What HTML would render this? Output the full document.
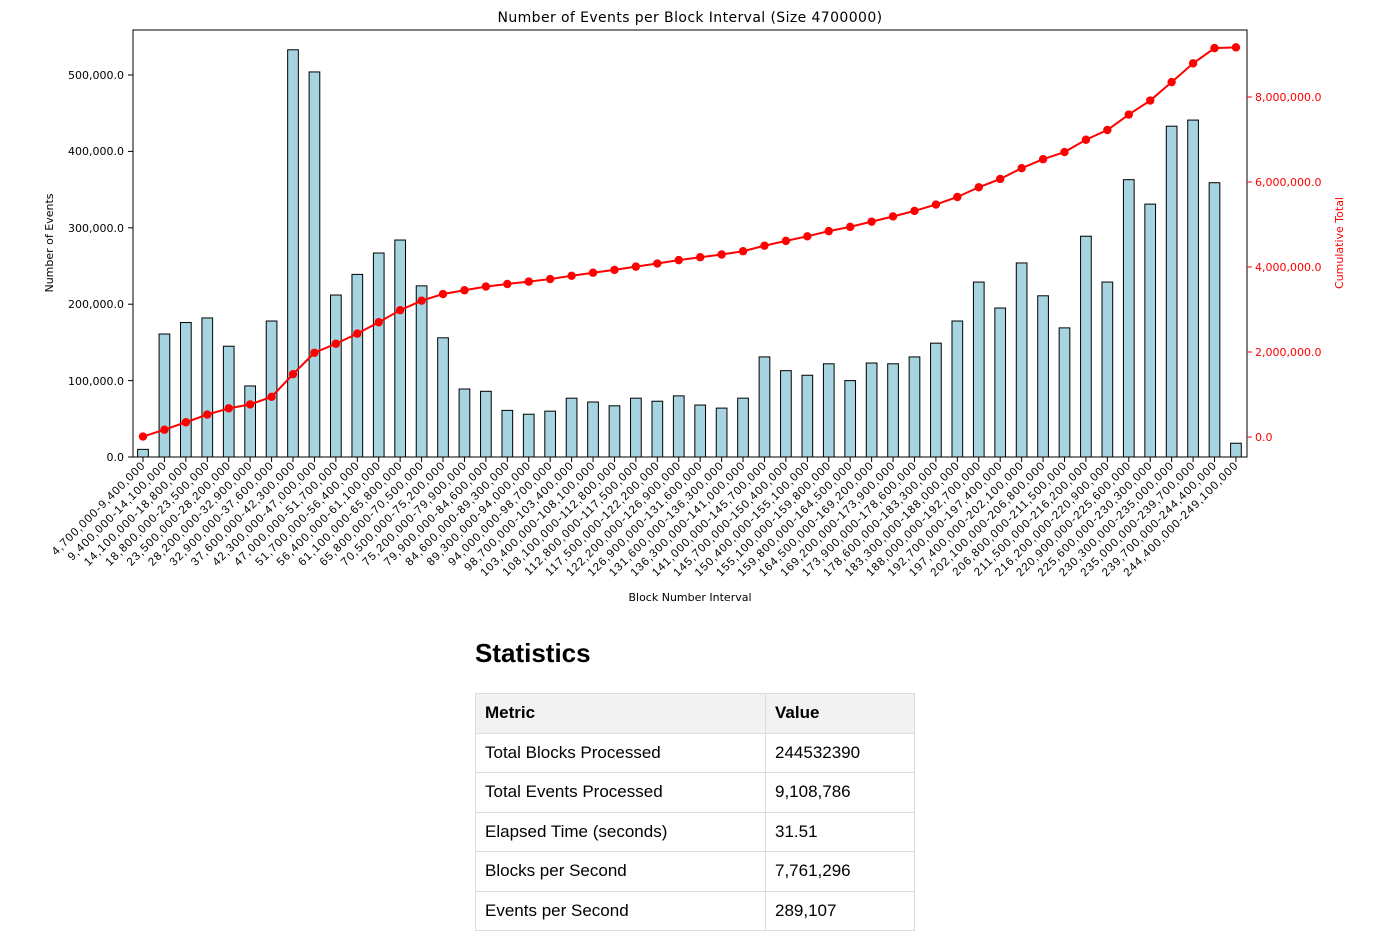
<!DOCTYPE html>
<html><head><meta charset="utf-8"><style>
body{margin:0;background:#fff;width:1373px;height:939px;overflow:hidden;font-family:"Liberation Sans",Arial,sans-serif}
svg{position:absolute;left:0;top:0}
text{font-family:"DejaVu Sans","Liberation Sans",sans-serif}
#lbl text{font-family:"Liberation Sans",sans-serif;letter-spacing:1.1px}
h2{position:absolute;left:475px;top:638px;margin:0;font-size:26px;font-weight:bold;font-family:"Liberation Sans",Arial,sans-serif}
table{position:absolute;left:475px;top:693px;border-collapse:collapse;font-size:17px}
td,th{border:1px solid #ddd;height:39.5px;padding:0 9px;text-align:left;box-sizing:border-box}
th{background:#f2f2f2;font-weight:bold}
</style></head><body>
<svg width="1373" height="620" id="s">
<text x="690" y="22" font-size="14" text-anchor="middle" letter-spacing="0.4">Number of Events per Block Interval (Size 4700000)</text>
<g id="bars"></g>
<rect x="133" y="30" width="1114" height="427" fill="none" stroke="#000" stroke-width="1"/>
<g font-size="11" text-anchor="end">
<text x="124" y="461">0.0</text><text x="124" y="385">100,000.0</text><text x="124" y="308">200,000.0</text><text x="124" y="232">300,000.0</text><text x="124" y="155">400,000.0</text><text x="124" y="79">500,000.0</text>
</g>
<g stroke="#000"><line x1="128" x2="133" y1="457" y2="457"/><line x1="128" x2="133" y1="380.6" y2="380.6"/><line x1="128" x2="133" y1="304.2" y2="304.2"/><line x1="128" x2="133" y1="227.8" y2="227.8"/><line x1="128" x2="133" y1="151.4" y2="151.4"/><line x1="128" x2="133" y1="75" y2="75"/></g>
<g stroke="red"><line x1="1247" x2="1252" y1="437" y2="437"/><line x1="1247" x2="1252" y1="352" y2="352"/><line x1="1247" x2="1252" y1="267" y2="267"/><line x1="1247" x2="1252" y1="182" y2="182"/><line x1="1247" x2="1252" y1="97" y2="97"/></g>
<g font-size="11" fill="red">
<text x="1255" y="441">0.0</text><text x="1255" y="356">2,000,000.0</text><text x="1255" y="271">4,000,000.0</text><text x="1255" y="186">6,000,000.0</text><text x="1255" y="101">8,000,000.0</text>
</g>
<text transform="translate(53,243) rotate(-90)" font-size="11" text-anchor="middle">Number of Events</text>
<text transform="translate(1343,243) rotate(-90)" font-size="11" text-anchor="middle" fill="red">Cumulative Total</text>
<text x="690" y="601" font-size="11" text-anchor="middle">Block Number Interval</text>
<g font-size="11.5" text-anchor="end" id="lbl">
<text transform="translate(146,466) rotate(-45)">4,700,000-9,400,000</text>
<text transform="translate(167.4,466) rotate(-45)">9,400,000-14,100,000</text>
<text transform="translate(188.9,466) rotate(-45)">14,100,000-18,800,000</text>
<text transform="translate(210.3,466) rotate(-45)">18,800,000-23,500,000</text>
<text transform="translate(231.7,466) rotate(-45)">23,500,000-28,200,000</text>
<text transform="translate(253.1,466) rotate(-45)">28,200,000-32,900,000</text>
<text transform="translate(274.6,466) rotate(-45)">32,900,000-37,600,000</text>
<text transform="translate(296,466) rotate(-45)">37,600,000-42,300,000</text>
<text transform="translate(317.4,466) rotate(-45)">42,300,000-47,000,000</text>
<text transform="translate(338.9,466) rotate(-45)">47,000,000-51,700,000</text>
<text transform="translate(360.3,466) rotate(-45)">51,700,000-56,400,000</text>
<text transform="translate(381.7,466) rotate(-45)">56,400,000-61,100,000</text>
<text transform="translate(403.2,466) rotate(-45)">61,100,000-65,800,000</text>
<text transform="translate(424.6,466) rotate(-45)">65,800,000-70,500,000</text>
<text transform="translate(446,466) rotate(-45)">70,500,000-75,200,000</text>
<text transform="translate(467.5,466) rotate(-45)">75,200,000-79,900,000</text>
<text transform="translate(488.9,466) rotate(-45)">79,900,000-84,600,000</text>
<text transform="translate(510.3,466) rotate(-45)">84,600,000-89,300,000</text>
<text transform="translate(531.7,466) rotate(-45)">89,300,000-94,000,000</text>
<text transform="translate(553.2,466) rotate(-45)">94,000,000-98,700,000</text>
<text transform="translate(574.6,466) rotate(-45)">98,700,000-103,400,000</text>
<text transform="translate(596,466) rotate(-45)">103,400,000-108,100,000</text>
<text transform="translate(617.5,466) rotate(-45)">108,100,000-112,800,000</text>
<text transform="translate(638.9,466) rotate(-45)">112,800,000-117,500,000</text>
<text transform="translate(660.3,466) rotate(-45)">117,500,000-122,200,000</text>
<text transform="translate(681.8,466) rotate(-45)">122,200,000-126,900,000</text>
<text transform="translate(703.2,466) rotate(-45)">126,900,000-131,600,000</text>
<text transform="translate(724.6,466) rotate(-45)">131,600,000-136,300,000</text>
<text transform="translate(746,466) rotate(-45)">136,300,000-141,000,000</text>
<text transform="translate(767.5,466) rotate(-45)">141,000,000-145,700,000</text>
<text transform="translate(788.9,466) rotate(-45)">145,700,000-150,400,000</text>
<text transform="translate(810.3,466) rotate(-45)">150,400,000-155,100,000</text>
<text transform="translate(831.8,466) rotate(-45)">155,100,000-159,800,000</text>
<text transform="translate(853.2,466) rotate(-45)">159,800,000-164,500,000</text>
<text transform="translate(874.6,466) rotate(-45)">164,500,000-169,200,000</text>
<text transform="translate(896.1,466) rotate(-45)">169,200,000-173,900,000</text>
<text transform="translate(917.5,466) rotate(-45)">173,900,000-178,600,000</text>
<text transform="translate(938.9,466) rotate(-45)">178,600,000-183,300,000</text>
<text transform="translate(960.4,466) rotate(-45)">183,300,000-188,000,000</text>
<text transform="translate(981.8,466) rotate(-45)">188,000,000-192,700,000</text>
<text transform="translate(1003.2,466) rotate(-45)">192,700,000-197,400,000</text>
<text transform="translate(1024.6,466) rotate(-45)">197,400,000-202,100,000</text>
<text transform="translate(1046.1,466) rotate(-45)">202,100,000-206,800,000</text>
<text transform="translate(1067.5,466) rotate(-45)">206,800,000-211,500,000</text>
<text transform="translate(1088.9,466) rotate(-45)">211,500,000-216,200,000</text>
<text transform="translate(1110.4,466) rotate(-45)">216,200,000-220,900,000</text>
<text transform="translate(1131.8,466) rotate(-45)">220,900,000-225,600,000</text>
<text transform="translate(1153.2,466) rotate(-45)">225,600,000-230,300,000</text>
<text transform="translate(1174.7,466) rotate(-45)">230,300,000-235,000,000</text>
<text transform="translate(1196.1,466) rotate(-45)">235,000,000-239,700,000</text>
<text transform="translate(1217.5,466) rotate(-45)">239,700,000-244,400,000</text>
<text transform="translate(1239,466) rotate(-45)">244,400,000-249,100,000</text>
</g>
</svg>
<h2>Statistics</h2>
<table>
<tr><th style="width:290px">Metric</th><th style="width:149px">Value</th></tr>
<tr><td>Total Blocks Processed</td><td>244532390</td></tr>
<tr><td>Total Events Processed</td><td>9,108,786</td></tr>
<tr><td>Elapsed Time (seconds)</td><td>31.51</td></tr>
<tr><td>Blocks per Second</td><td>7,761,296</td></tr>
<tr><td>Events per Second</td><td>289,107</td></tr>
</table>
<script>
var v=[10,161,176,182,145,93,178,533,504,212,239,267,284,224,156,89,86,61,56,60,77,72,67,77,73,80,68,64,77,131,113,107,122,100,123,122,131,149,178,229,195,254,211,169,289,229,363,331,433,441,359,18];
var g=document.getElementById('bars'),h='',c=0,pts=[],dots='';
for(var i=0;i<v.length;i++){var x=143+21.43*i,hh=v[i]*0.764;
h+='<rect x="'+(x-5.35)+'" y="'+(457-hh)+'" width="10.7" height="'+hh+'" fill="#a6d4e0" stroke="#000" stroke-width="1"/>';
h+='<line x1="'+x+'" x2="'+x+'" y1="457" y2="462" stroke="#000"/>';
c+=v[i];var y=437-c/1000*42.5;pts.push(x+','+y);dots+='<circle cx="'+x+'" cy="'+y+'" r="4.2" fill="red"/>';}
h+='<polyline points="'+pts.join(' ')+'" fill="none" stroke="red" stroke-width="2"/>'+dots;
g.innerHTML=h;
</script>
</body></html>
